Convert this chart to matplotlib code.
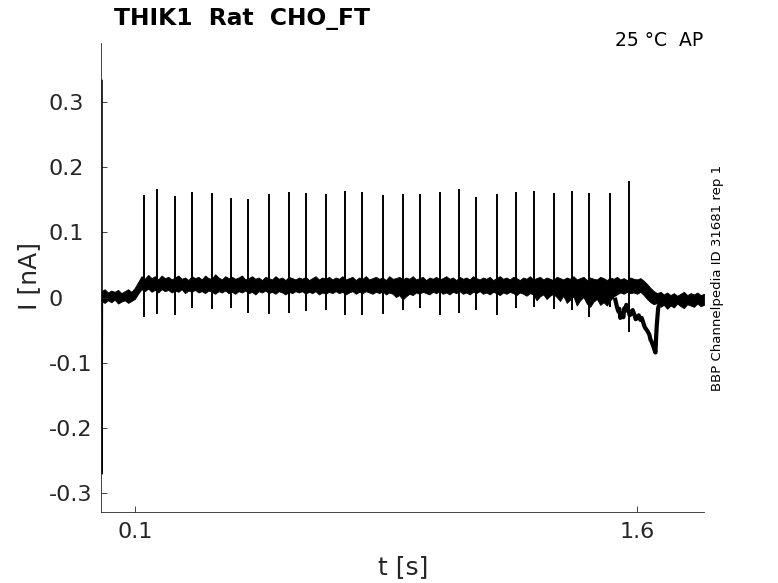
import numpy as np
import matplotlib
matplotlib.use("Agg")
import matplotlib.pyplot as plt
from matplotlib.transforms import ScaledTranslation

# envelope of the overlaid sweeps (nA), sampled every 10 ms from 0 to 1.8 s
t_env = np.round(np.arange(0, 1.8001, 0.01), 3)
env_upper = [
    0.010, 0.013, 0.008, 0.011, 0.009, 0.012, 0.007, 0.010, 0.013, 0.009,
    0.015, 0.024, 0.033, 0.029, 0.035, 0.030, 0.033, 0.028, 0.034, 0.030,
    0.032, 0.028, 0.031, 0.034, 0.029, 0.031, 0.027, 0.033, 0.030, 0.032,
    0.028, 0.034, 0.030, 0.029, 0.036, 0.031, 0.028, 0.033, 0.030, 0.032,
    0.029, 0.031, 0.034, 0.028, 0.030, 0.033, 0.029, 0.031, 0.027, 0.032,
    0.030, 0.028, 0.033, 0.029, 0.031, 0.027, 0.032, 0.030, 0.028, 0.031,
    0.029, 0.032, 0.027, 0.030, 0.033, 0.028, 0.031, 0.029, 0.032, 0.028,
    0.031, 0.029, 0.033, 0.028, 0.030, 0.032, 0.027, 0.031, 0.029, 0.033,
    0.028, 0.030, 0.032, 0.029, 0.031, 0.027, 0.033, 0.029, 0.030, 0.032,
    0.028, 0.031, 0.029, 0.033, 0.028, 0.030, 0.032, 0.027, 0.031, 0.029,
    0.032, 0.028, 0.030, 0.033, 0.029, 0.031, 0.027, 0.032, 0.029, 0.031,
    0.028, 0.033, 0.030, 0.028, 0.031, 0.029, 0.032, 0.027, 0.030, 0.033,
    0.029, 0.031, 0.028, 0.032, 0.030, 0.027, 0.031, 0.029, 0.033, 0.028,
    0.030, 0.032, 0.028, 0.031, 0.029, 0.027, 0.032, 0.030, 0.028, 0.031,
    0.029, 0.033, 0.028, 0.030, 0.032, 0.027, 0.031, 0.029, 0.028, 0.032,
    0.030, 0.027, 0.031, 0.029, 0.032, 0.028, 0.030, 0.027, 0.031, 0.029,
    0.028, 0.030, 0.026, 0.021, 0.015, 0.010, 0.007, 0.009, 0.005, 0.008,
    0.004, 0.007, 0.003, 0.006, 0.009, 0.004, 0.007, 0.005, 0.008, 0.004,
    0.006]
env_lower = [
    -0.005, -0.008, -0.004, -0.007, -0.003, -0.009, -0.006, -0.004, -0.008, -0.005,
    -0.002, 0.006, 0.013, 0.010, 0.014, 0.009, 0.012, 0.008, 0.013, 0.010,
    0.012, 0.008, 0.011, 0.009, 0.013, 0.007, 0.011, 0.009, 0.012, 0.008,
    0.010, 0.007, 0.011, 0.009, 0.006, 0.010, 0.008, 0.011, 0.007, 0.009,
    0.006, 0.010, 0.008, 0.011, 0.007, 0.009, 0.005, 0.010, 0.008, 0.011,
    0.007, 0.009, 0.006, 0.010, 0.008, 0.005, 0.009, 0.007, 0.010, 0.008,
    0.010, 0.006, 0.009, 0.007, 0.010, 0.005, 0.008, 0.006, 0.009, 0.007,
    0.010, 0.007, 0.009, 0.005, 0.008, 0.010, 0.006, 0.009, 0.007, 0.010,
    0.008, 0.006, 0.009, 0.007, 0.010, 0.005, 0.008, 0.006, 0.001, 0.004,
    -0.003, 0.002, 0.006, 0.004, 0.008, 0.006, 0.009, 0.007, 0.005, 0.009,
    0.007, 0.010, 0.006, 0.008, 0.005, 0.009, 0.007, 0.010, 0.006, 0.008,
    0.005, 0.009, 0.007, 0.010, 0.006, 0.008, 0.005, 0.009, 0.007, 0.004,
    0.008, 0.006, 0.009, 0.007, 0.004, 0.008, 0.006, 0.003, 0.007, 0.005,
    -0.004, 0.002, 0.005, -0.002, 0.003, 0.006, 0.001, -0.005, 0.003, -0.008,
    -0.003, 0.002, -0.012, -0.004, 0.001, -0.009, -0.014, -0.006, -0.002, -0.011,
    -0.007, -0.012, -0.004, 0.002, 0.005, 0.008, 0.006, 0.009, 0.007, 0.008,
    0.006, 0.009, 0.004, -0.002, -0.007, -0.010, -0.008, -0.014, -0.011, -0.017,
    -0.012, -0.015, -0.009, -0.013, -0.016, -0.010, -0.012, -0.014, -0.009, -0.013,
    -0.011]

# stimulus artefacts (s, nA)
spike_t = [0.129, 0.165, 0.220, 0.272, 0.332, 0.387, 0.438, 0.501, 0.561, 0.612,
           0.672, 0.728, 0.778, 0.841, 0.900, 0.951, 1.011, 1.068, 1.118, 1.181,
           1.239, 1.291, 1.351, 1.406, 1.458, 1.520, 1.577]
spike_peak = [0.158, 0.167, 0.156, 0.162, 0.160, 0.153, 0.152, 0.159, 0.162, 0.160,
              0.159, 0.163, 0.162, 0.158, 0.159, 0.159, 0.162, 0.167, 0.154, 0.159,
              0.162, 0.164, 0.160, 0.163, 0.161, 0.161, 0.179]
spike_trough = [-0.029, -0.025, -0.027, -0.016, -0.018, -0.016, -0.023, -0.025, -0.024, -0.020,
                -0.019, -0.027, -0.026, -0.025, -0.019, -0.016, -0.027, -0.024, -0.019, -0.026,
                -0.016, -0.014, -0.018, -0.019, -0.029, -0.014, -0.052]

# second sweep running away near the end
dev_t = [1.535, 1.540, 1.544, 1.547, 1.550, 1.553, 1.556, 1.559, 1.562, 1.565,
         1.568, 1.571, 1.574, 1.578, 1.583, 1.587, 1.592, 1.596, 1.601, 1.605,
         1.610, 1.614, 1.619, 1.623, 1.628, 1.632, 1.637, 1.640, 1.643, 1.646,
         1.649, 1.652, 1.655, 1.657, 1.659, 1.663, 1.669]
dev_i = [-0.003, -0.014, -0.021, -0.017, -0.031, -0.026, -0.024, -0.030, -0.016, -0.020,
         -0.011, -0.017, -0.019, -0.027, -0.024, -0.019, -0.026, -0.033, -0.031, -0.027,
         -0.034, -0.031, -0.039, -0.045, -0.049, -0.052, -0.057, -0.064, -0.067, -0.071,
         -0.075, -0.080, -0.084, -0.060, -0.042, -0.016, -0.006]

# capacitive transient at the very start
cap_t = [0.002, 0.002, 0.003]
cap_i = [0.333, -0.270, 0.004]

grey = '#262626'

fig = plt.figure(figsize=(7.78, 5.83), dpi=100)
ax = fig.add_axes([0.1302, 0.1213, 0.7747, 0.8055])

ax.fill_between(t_env, env_lower, env_upper, color='black', lw=0.6, edgecolor='black')
ax.vlines(spike_t, spike_trough, spike_peak, color='black', lw=1.4)
ax.plot(dev_t, dev_i, color='black', lw=3)
ax.plot(cap_t, cap_i, color='black', lw=1.2)

ax.set_xlim(0, 1.8)
ax.set_ylim(-0.329, 0.391)

ax.set_xticks([0.1, 1.6])
ax.set_xticklabels(['0.1', '1.6'])
yt = [-0.3, -0.2, -0.1, 0, 0.1, 0.2, 0.3]
ax.set_yticks(yt)
ax.set_yticklabels(['-0.3', '-0.2', '-0.1', '0', '0.1', '0.2', '0.3'])
for lab in ax.get_yticklabels():
    lab.set_horizontalalignment('left')
    if lab.get_text() == '0':
        lab.set_transform(lab.get_transform() + ScaledTranslation(5 / 100, 0, fig.dpi_scale_trans))

ax.tick_params(direction='in', length=4.5, width=0.6, colors=grey, labelsize=16)
ax.tick_params(axis='y', pad=38)
ax.tick_params(axis='x', pad=7)

for s in ['top', 'right']:
    ax.spines[s].set_visible(False)
for s in ['left', 'bottom']:
    ax.spines[s].set_color(grey)
    ax.spines[s].set_linewidth(0.6)

fig.text(403 / 778, 1 - 567 / 583, 't [s]', ha='center', va='center', fontsize=18, color=grey)
fig.text(29 / 778, 1 - 276 / 583, 'I [nA]', ha='center', va='center', rotation=90,
         fontsize=18, color=grey)

fig.text(114 / 778, 1 - 18 / 583, 'THIK1  Rat  CHO_FT', ha='left', va='center',
         fontsize=16.8, fontweight='bold', color='black')
fig.text(703 / 778, 1 - 40.5 / 583, '25 °C  AP', ha='right', va='center',
         fontsize=13.5, color='black')
fig.text(717 / 778, 1 - 278 / 583, 'BBP Channelpedia ID 31681 rep 1', ha='center',
         va='center', rotation=90, fontsize=9.5, color='black')

fig.savefig('out.png', dpi=100)
